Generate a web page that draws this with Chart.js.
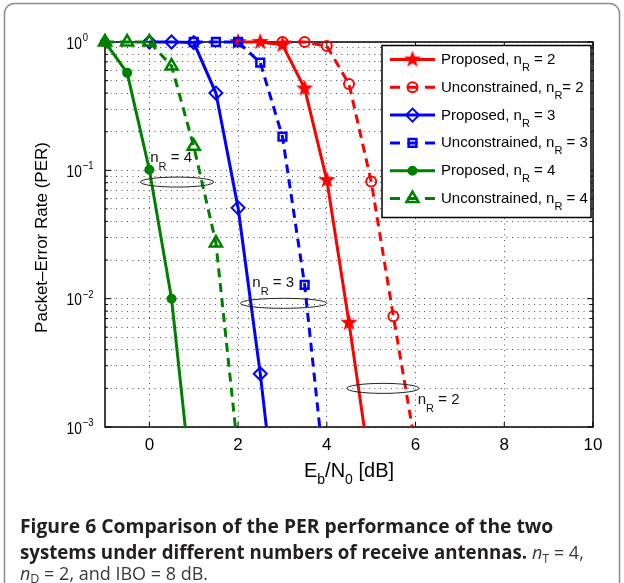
<!DOCTYPE html>
<html>
<head>
<meta charset="utf-8">
<script src="https://cdn.jsdelivr.net/npm/chart.js@4.4.1/dist/chart.umd.min.js"></script>
<style>
  html, body { margin: 0; padding: 0; background: #fff; }
</style>
</head>
<body>
<canvas id="perChart" width="624" height="583"></canvas>
<script>
// Eb/N0 (dB) and PER
var ebnoP2 = [2, 2.5, 3, 3.5, 4, 4.5, 5]
var perP2 = [1, 1, 0.95, 0.435, 0.084, 0.0065, 0.00042]
var ebnoU2 = [3, 3.5, 4, 4.5, 5, 5.5, 6]
var perU2 = [1, 1, 0.93, 0.47, 0.082, 0.0073, 0.0007]
var ebnoP3 = [0, 0.5, 1, 1.5, 2, 2.5, 3]
var perP3 = [1, 1, 0.99, 0.40, 0.051, 0.0026, 0.00008]
var ebnoU3 = [1, 1.5, 2, 2.5, 3, 3.5, 4]
var perU3 = [1, 1, 1, 0.69, 0.183, 0.0128, 0.0003]
var ebnoP4 = [-1, -0.5, 0, 0.5, 1]
var perP4 = [1, 0.575, 0.101, 0.01, 0.00024]
var ebnoU4 = [-1, -0.5, 0, 0.5, 1, 1.5, 2]
var perU4 = [1, 1, 1, 0.65, 0.154, 0.0272, 0.00063]

var seriesLabels = [
  ['Proposed, n', 'R', ' = 2'],
  ['Unconstrained, n', 'R', '= 2'],
  ['Proposed, n', 'R', ' = 3'],
  ['Unconstrained, n', 'R', ' = 3'],
  ['Proposed, n', 'R', ' = 4'],
  ['Unconstrained, n', 'R', ' = 4']
]

var xTicks = [0, 2, 4, 6, 8, 10]
var yExponents = [0, -1, -2, -3]

// ellipse groups: x span, y centre, label
var ringX = [[-0.2, 1.45], [2.05, 4.0], [4.45, 6.08]]
var ringY = [0.081, 0.0092, 0.0020]
var ringLabel = ['4', '3', '2']
var ringTextX = [0.02, 2.32, 6.05]
var ringTextY = [0.117, 0.0124, 0.0015]

var RED = '#ff0000', BLUE = '#0000ff', GREEN = '#008000'
var FONT = '"Liberation Sans", Arial, sans-serif'
var CAP = '"Open Sans", "Noto Sans", sans-serif'

function makeStar(color, r) {
  var c = document.createElement('canvas')
  var s = Math.ceil(r * 2 + 2)
  c.width = s
  c.height = s
  var g = c.getContext('2d')
  g.fillStyle = color
  g.beginPath()
  for (var i = 0; i < 10; i++) {
    var rad = i % 2 ? r * 0.42 : r
    var a = -Math.PI / 2 + i * Math.PI / 5
    g.lineTo(s / 2 + rad * Math.cos(a), s / 2 + rad * Math.sin(a))
  }
  g.closePath()
  g.fill()
  return c
}

function pts(xs, ys) {
  return xs.map(function (x, i) { return {x: x, y: ys[i]} })
}

function line(label, xs, ys, color, dashed, style, radius, fill, order, mw) {
  return {
    label: label.join(''),
    parts: label,
    data: pts(xs, ys),
    borderColor: color,
    borderWidth: 3,
    borderDash: dashed ? [9, 6] : [],
    pointStyle: style,
    pointRadius: radius,
    pointBorderWidth: mw,
    pointBorderColor: color,
    pointBackgroundColor: fill,
    tension: 0,
    order: order,
    clip: {left: 14, top: 14, right: 14, bottom: 0}
  }
}

var none = 'rgba(0,0,0,0)'
var datasets = [
  line(seriesLabels[0], ebnoP2, perP2, RED, false, makeStar(RED, 9), 8, RED, 2, 2),
  line(seriesLabels[1], ebnoU2, perU2, RED, true, 'circle', 5, none, 2, 2),
  line(seriesLabels[2], ebnoP3, perP3, BLUE, false, 'rectRot', 6.5, none, 1, 2),
  line(seriesLabels[3], ebnoU3, perU3, BLUE, true, 'rect', 5.5, none, 1, 2.5),
  line(seriesLabels[4], ebnoP4, perP4, GREEN, false, 'circle', 4, GREEN, 0, 2),
  line(seriesLabels[5], ebnoU4, perU4, GREEN, true, 'triangle', 7, none, 0, 2.5)
]

function subText(ctx, x, y, parts, size, subSize, drop, family) {
  ctx.textAlign = 'left'
  ctx.font = size + 'px ' + family
  ctx.fillText(parts[0], x, y)
  x += ctx.measureText(parts[0]).width
  ctx.font = subSize + 'px ' + family
  ctx.fillText(parts[1], x, y + drop)
  x += ctx.measureText(parts[1]).width
  ctx.font = size + 'px ' + family
  ctx.fillText(parts[2], x, y)
  return x + ctx.measureText(parts[2]).width
}

function textWidth(ctx, parts, size, subSize, family) {
  ctx.font = size + 'px ' + family
  var w = ctx.measureText(parts[0]).width + ctx.measureText(parts[2]).width
  ctx.font = subSize + 'px ' + family
  return w + ctx.measureText(parts[1]).width
}

var axesBox = {
  id: 'axesBox',
  beforeDatasetsDraw: function (chart) {
    var ctx = chart.ctx, a = chart.chartArea, xs = chart.scales.x, ys = chart.scales.y
    ctx.save()
    ctx.strokeStyle = '#000'
    ctx.lineWidth = 1.5
    ctx.strokeRect(a.left, a.top, a.right - a.left, a.bottom - a.top)
    ctx.lineWidth = 1
    ctx.beginPath()
    xTicks.forEach(function (v) {
      var px = xs.getPixelForValue(v)
      ctx.moveTo(px, a.bottom); ctx.lineTo(px, a.bottom - 5)
      ctx.moveTo(px, a.top); ctx.lineTo(px, a.top + 5)
    })
    ys.ticks.forEach(function (t) {
      var py = ys.getPixelForValue(t.value)
      var len = t.major ? 6 : 3
      ctx.moveTo(a.left, py); ctx.lineTo(a.left + len, py)
      ctx.moveTo(a.right, py); ctx.lineTo(a.right - len, py)
    })
    ctx.stroke()
    ctx.restore()
  },
  afterDraw: function (chart) {
    var ctx = chart.ctx, a = chart.chartArea, xs = chart.scales.x, ys = chart.scales.y
    ctx.save()
    ctx.fillStyle = '#000'

    // x tick labels
    ctx.font = '17px ' + FONT
    ctx.textAlign = 'center'
    ctx.textBaseline = 'alphabetic'
    xTicks.forEach(function (v) {
      ctx.fillText(String(v), xs.getPixelForValue(v), a.bottom + 23)
    })

    // y tick labels 10^n
    yExponents.forEach(function (e) {
      var py = ys.getPixelForValue(Math.pow(10, e))
      var x0 = a.left - 38.5
      ctx.save()
      ctx.translate(x0, py + 6.5)
      ctx.scale(0.86, 1)
      ctx.font = '16px ' + FONT
      ctx.textAlign = 'left'
      ctx.fillText('10', 0, 0)
      var w = ctx.measureText('10').width
      ctx.font = '11px ' + FONT
      ctx.fillText(e === 0 ? '0' : '\u2212' + Math.abs(e), w + 1, -7.5)
      ctx.restore()
    })

    // axis titles
    var xt = ['E', 'b', '/N']
    var w1 = textWidth(ctx, xt, 20, 14, FONT)
    ctx.font = '20px ' + FONT
    var w2 = ctx.measureText('0').width * 0.7 + ctx.measureText(' [dB]').width
    var cx = (a.left + a.right) / 2 - (w1 + w2) / 2
    var endX = subText(ctx, cx, a.bottom + 50, xt, 20, 14, 7, FONT)
    subText(ctx, endX, a.bottom + 50, ['', '0', ' [dB]'], 20, 14, 7, FONT)

    ctx.save()
    ctx.translate(42, (a.top + a.bottom) / 2 + 3)
    ctx.rotate(-Math.PI / 2)
    ctx.font = '17px ' + FONT
    ctx.textAlign = 'center'
    ctx.textBaseline = 'middle'
    ctx.fillText('Packet\u2013Error Rate (PER)', 0, 0)
    ctx.restore()

    // ellipses with n_R labels
    ctx.strokeStyle = '#222'
    ctx.lineWidth = 1
    ringX.forEach(function (span, i) {
      var x1 = xs.getPixelForValue(span[0]), x2 = xs.getPixelForValue(span[1])
      var py = ys.getPixelForValue(ringY[i])
      ctx.beginPath()
      ctx.ellipse((x1 + x2) / 2, py, (x2 - x1) / 2, 5, 0, 0, Math.PI * 2)
      ctx.stroke()
      ctx.fillStyle = '#111'
      subText(ctx, xs.getPixelForValue(ringTextX[i]), ys.getPixelForValue(ringTextY[i]),
        ['n', 'R', ' = ' + ringLabel[i]], 15, 11, 8, FONT)
    })

    // legend
    var lx = a.right - 211, ly = a.top + 3.5
    ctx.fillStyle = '#fff'
    ctx.fillRect(lx, ly, 209, 172)
    ctx.strokeStyle = '#000'
    ctx.lineWidth = 1.5
    ctx.strokeRect(lx, ly, 209, 172)
    chart.data.datasets.forEach(function (ds, i) {
      var ry = ly + 14 + i * 27.8
      ctx.save()
      ctx.strokeStyle = ds.borderColor
      ctx.lineWidth = 3
      ctx.setLineDash(ds.borderDash.length ? [10, 7.5] : [])
      ctx.beginPath()
      ctx.moveTo(lx + 8, ry)
      ctx.lineTo(lx + 53, ry)
      ctx.stroke()
      ctx.setLineDash([])
      ctx.fillStyle = ds.pointBackgroundColor
      ctx.strokeStyle = ds.pointBorderColor
      ctx.lineWidth = ds.pointBorderWidth
      Chart.helpers.drawPoint(ctx, {pointStyle: ds.pointStyle, radius: ds.pointRadius, rotation: 0, borderWidth: ds.pointBorderWidth}, lx + 30.5, ry)
      ctx.restore()
      ctx.fillStyle = '#000'
      subText(ctx, lx + 59, ry + 4.5, ds.parts, 15, 11, 7, FONT)
    })

    // caption
    ctx.fillStyle = '#231f20'
    ctx.font = 'bold 19.3px ' + CAP
    ctx.fillText('Figure 6 Comparison of the PER performance of the two', 20, 533)
    var s2 = 'systems under different numbers of receive antennas.'
    ctx.font = 'bold 18.7px ' + CAP
    ctx.fillText(s2, 20, 559)
    var nx = 20 + ctx.measureText(s2 + ' ').width
    ctx.fillStyle = '#3a3a3a'
    ctx.font = 'italic 18px ' + CAP
    ctx.fillText('n', nx, 559)
    nx += ctx.measureText('n').width
    subText(ctx, nx, 559, ['', 'T', ' = 4,'], 18, 12.5, 4, CAP)
    ctx.font = 'italic 18px ' + CAP
    ctx.fillText('n', 20, 580)
    subText(ctx, 20 + ctx.measureText('n').width, 580, ['', 'D', ' = 2, and IBO = 8 dB.'], 18, 12.5, 3, CAP)

    // figure frame (bottom edge falls outside the picture)
    ctx.strokeStyle = '#8c8c8c'
    ctx.lineWidth = 1.5
    ctx.beginPath()
    ctx.roundRect(4.5, 3.5, 615, 600, 10)
    ctx.stroke()
    ctx.restore()
  }
}

var minorY = []
yExponents.forEach(function (e) {
  for (var k = 1; k <= 9; k++) {
    if (e < 0 || k === 1) minorY.push({value: k * Math.pow(10, e), major: k === 1})
  }
})

new Chart(document.getElementById('perChart'), {
  type: 'line',
  data: {datasets: datasets},
  options: {
    responsive: false,
    animation: false,
    devicePixelRatio: 1,
    layout: {padding: {left: 105, right: 31, top: 42, bottom: 156}},
    plugins: {legend: {display: false}, tooltip: {enabled: false}},
    scales: {
      x: {
        type: 'linear', min: -1, max: 10,
        afterBuildTicks: function (s) { s.ticks = xTicks.map(function (v) { return {value: v} }) },
        afterFit: function (s) { s.height = 0 },
        ticks: {display: false},
        grid: {color: '#555', lineWidth: 1, drawTicks: false},
        border: {display: false, dash: [1, 4.5]}
      },
      y: {
        type: 'logarithmic', min: 0.001, max: 1,
        afterBuildTicks: function (s) { s.ticks = minorY.map(function (t) { return {value: t.value, major: t.major} }) },
        afterFit: function (s) { s.width = 0 },
        ticks: {display: false},
        grid: {color: '#555', lineWidth: 1, drawTicks: false},
        border: {display: false, dash: [1, 4.5]}
      }
    }
  },
  plugins: [axesBox]
})
</script>
</body>
</html>
